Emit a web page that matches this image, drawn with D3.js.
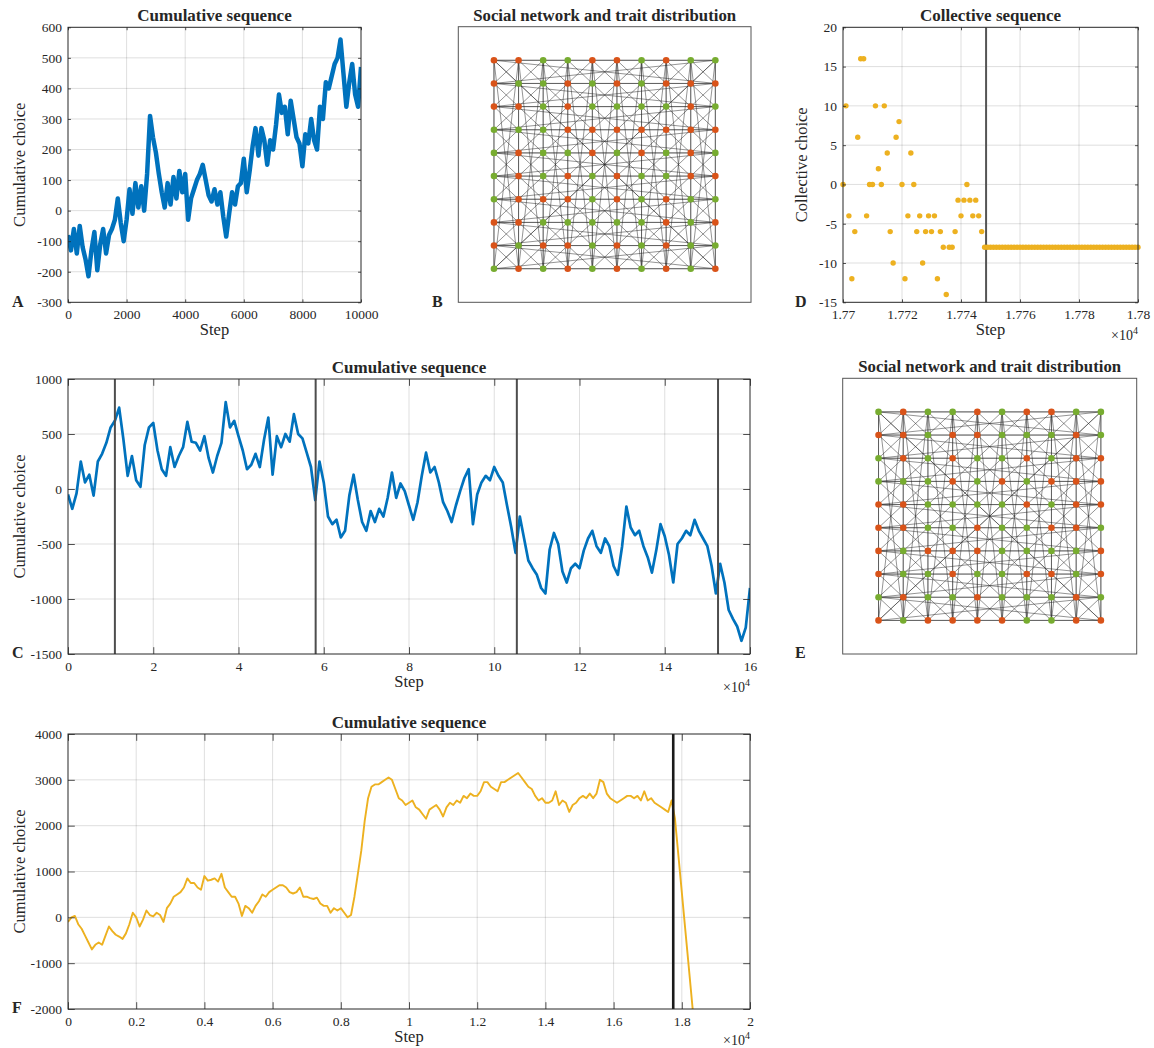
<!DOCTYPE html>
<html>
<head>
<meta charset="utf-8">
<script src="https://cdn.jsdelivr.net/npm/d3@7"></script>
<style>
body { margin: 0; background: #fff; }
svg text { font-family: "Liberation Serif", serif; fill: #262626; }
</style>
</head>
<body>
<svg id="fig" width="1154" height="1048"></svg>
<script>
// Panel A: cumulative choice, one value every 100 steps (0..10000)
const aValues = [-80,-130,-60,-140,-50,-120,-160,-215,-130,-70,
  -195,-110,-60,-140,-80,-60,-30,40,-40,-100,
  -30,70,-10,90,10,80,0,120,310,240,
  190,120,60,10,90,20,110,40,130,60,
  120,-30,40,70,100,120,150,100,50,30,
  70,20,60,-20,-85,-10,60,20,80,90,
  170,60,130,210,270,180,270,230,150,230,
  200,280,380,320,340,250,360,300,240,220,
  145,250,220,300,230,200,340,300,420,400,
  440,480,500,560,450,340,420,480,380,340,470];
const aStepSize = 100;

// Panel C: cumulative choice, one value every 0.1 x 10^4 steps (0..16)
const cValues = [-50,-180,-40,250,60,130,-60,250,320,420,
  560,620,740,450,120,300,80,20,400,560,
  600,350,180,120,380,200,300,380,610,430,
  420,350,480,280,150,300,420,790,560,620,
  480,350,180,220,320,200,450,650,130,480,
  380,500,430,680,500,460,330,200,-100,250,
  60,-250,-320,-280,-440,-380,-60,130,-100,-300,
  -380,-200,-300,-180,-250,-80,150,-80,50,-20,
  -150,-280,-120,120,330,150,200,60,-120,-200,
  -300,-150,-20,100,180,-320,-50,60,120,80,
  200,120,60,-150,-350,-580,-250,-450,-650,-720,
  -780,-900,-950,-550,-400,-500,-750,-850,-720,-680,
  -720,-560,-450,-380,-520,-580,-450,-520,-700,-780,
  -520,-160,-350,-420,-380,-520,-620,-760,-560,-320,
  -430,-600,-850,-500,-450,-380,-420,-280,-380,-450,
  -520,-700,-950,-680,-850,-1100,-1180,-1250,-1380,-1260,
  -900];
const cStepSize = 0.1;
const cMarkers = [1.1, 5.81, 10.53, 15.25];

// Panel F: cumulative choice, one value every 0.01 x 10^4 steps (0..1.84)
const fValues = [-100,0,30,-150,-250,-400,-550,-700,-600,-550,
  -600,-400,-200,-300,-380,-420,-470,-350,-150,100,
  0,-200,-50,150,50,20,100,50,-100,200,
  300,450,500,550,650,850,750,750,650,600,
  900,800,820,850,780,950,650,550,450,450,
  300,30,250,200,100,250,350,500,450,550,
  600,650,700,700,650,550,520,550,650,450,
  450,420,400,430,300,250,250,100,200,150,
  200,100,0,50,450,950,1450,2100,2600,2850,
  2900,2900,2950,3000,3050,3000,2800,2600,2550,2450,
  2500,2550,2400,2350,2250,2150,2350,2400,2450,2350,
  2200,2400,2500,2450,2550,2500,2650,2600,2700,2650,
  2650,2750,2950,2950,2850,2800,2750,2950,2950,3000,
  3050,3100,3150,3050,2950,2850,2800,2650,2550,2600,
  2500,2500,2550,2750,2450,2550,2500,2300,2450,2500,
  2600,2650,2600,2700,2600,2700,3000,2950,2700,2600,
  2550,2500,2550,2600,2650,2650,2600,2650,2550,2750,
  2550,2600,2500,2450,2400,2350,2300,2550,2150,1350,
  550,-250,-1050,-1850,-2650];
const fStepSize = 0.01;
const fMarkers = [1.7749];

// Panel D: collective choice per step, steps 17700..17800
const dStart = 17700;
const dValues = [0,10,-4,-12,-6,6,16,16,-4,0,
  0,10,2,0,10,4,-6,-10,6,8,
  0,-12,-4,4,0,-6,-4,-10,-6,-4,
  -6,-4,-12,-6,-8,-14,-8,-8,-6,-2,
  -4,-2,0,-2,-4,-2,-4,-6,
  -8,-8,-8,-8,-8,-8,-8,-8,-8,-8,-8,-8,-8,-8,-8,-8,-8,-8,-8,-8,
  -8,-8,-8,-8,-8,-8,-8,-8,-8,-8,-8,-8,-8,-8,-8,-8,-8,-8,-8,-8,
  -8,-8,-8,-8,-8,-8,-8,-8,-8,-8,-8,-8,-8];
const dMarkers = [17748.5];

// Trait grids, rows from top (O = orange trait, G = green trait)
const traitsB = ['OOGGOOGOGG','OGGOGOGOOO','OOGOGGGGOG','GGGOOOOOOO','GOGGOGOGOG',
  'GOGOGOGGOO','GOOOGOGOGG','OOGGGGGOGO','OGOOGOGOGG','GOGOGOGOGO'];
const traitsE = ['GOGGOGOOGG','OOGOOGGGOG','GOGOGGOGOO','GGGOGOGOOO','OOGGGGOGOO',
  'OOGGOGGOOG','OGOOOGGGGO','OGGOGGOOGO','GOGGOGGGOG','OGOOOOGGOO'];

const aXTicks = [0, 2000, 4000, 6000, 8000, 10000];
const aYTicks = [-300, -200, -100, 0, 100, 200, 300, 400, 500, 600];
const cXTicks = [0, 2, 4, 6, 8, 10, 12, 14, 16];
const cYTicks = [-1500, -1000, -500, 0, 500, 1000];
const fXTicks = [0, 0.2, 0.4, 0.6, 0.8, 1, 1.2, 1.4, 1.6, 1.8, 2];
const fYTicks = [-2000, -1000, 0, 1000, 2000, 3000, 4000];
const dXTicks = [17700, 17720, 17740, 17760, 17780, 17800];
const dYTicks = [-15, -10, -5, 0, 5, 10, 15, 20];

const BLUE = '#0072BD', YELLOW = '#EDB120', ORANGE = '#D95319', GREEN = '#77AC30';
const AX = '#262626';
const FONT = '"Liberation Serif", serif';

const svg = d3.select('#fig');
let clipId = 0;

function makeAxes(o) {
    const x = d3.scaleLinear().domain(o.xDomain).range([o.x0, o.x1]);
    const y = d3.scaleLinear().domain(o.yDomain).range([o.y1, o.y0]);
    const g = svg.append('g');

    // grid
    g.append('g').selectAll('line')
        .data(o.xTicks.filter(t => t > o.xDomain[0] && t < o.xDomain[1]))
        .join('line')
        .attr('x1', d => x(d)).attr('x2', d => x(d))
        .attr('y1', o.y0).attr('y2', o.y1)
        .attr('stroke', AX).attr('stroke-opacity', 0.15);
    g.append('g').selectAll('line')
        .data(o.yTicks.filter(t => t > o.yDomain[0] && t < o.yDomain[1]))
        .join('line')
        .attr('y1', d => y(d)).attr('y2', d => y(d))
        .attr('x1', o.x0).attr('x2', o.x1)
        .attr('stroke', AX).attr('stroke-opacity', 0.15);

    const id = 'clip' + (clipId++);
    svg.append('clipPath').attr('id', id).append('rect')
        .attr('x', o.x0).attr('y', o.y0)
        .attr('width', o.x1 - o.x0).attr('height', o.y1 - o.y0);
    const plot = g.append('g').attr('clip-path', `url(#${id})`);
    return { x, y, g, plot, o };
}

function finishAxes(a) {
    const o = a.o;
    const tl = 0.01 * Math.max(o.x1 - o.x0, o.y1 - o.y0);
    const fx = o.xFmt || (v => String(v));
    const fy = o.yFmt || (v => String(v));
    const none = () => '';
    const style = sel => {
        sel.attr('font-size', 13.5).attr('font-family', FONT).attr('color', AX);
        sel.select('.domain').remove();
        sel.selectAll('line').attr('stroke-width', 0.8);
    };
    a.g.append('g').attr('transform', `translate(0,${o.y1})`)
        .call(d3.axisBottom(a.x).tickValues(o.xTicks).tickFormat(fx).tickSize(-tl).tickSizeOuter(0).tickPadding(7))
        .call(style);
    a.g.append('g').attr('transform', `translate(0,${o.y0})`)
        .call(d3.axisTop(a.x).tickValues(o.xTicks).tickFormat(none).tickSize(-tl).tickSizeOuter(0))
        .call(style);
    a.g.append('g').attr('transform', `translate(${o.x0},0)`)
        .call(d3.axisLeft(a.y).tickValues(o.yTicks).tickFormat(fy).tickSize(-tl).tickSizeOuter(0).tickPadding(6))
        .call(style);
    a.g.append('g').attr('transform', `translate(${o.x1},0)`)
        .call(d3.axisRight(a.y).tickValues(o.yTicks).tickFormat(none).tickSize(-tl).tickSizeOuter(0))
        .call(style);

    a.g.append('rect')
        .attr('x', o.x0).attr('y', o.y0)
        .attr('width', o.x1 - o.x0).attr('height', o.y1 - o.y0)
        .attr('fill', 'none').attr('stroke', AX).attr('stroke-width', 1);

    const cx = (o.x0 + o.x1) / 2;
    a.g.append('text').attr('x', cx).attr('y', o.y0 - 6)
        .attr('text-anchor', 'middle').attr('font-weight', 'bold').attr('font-size', 17)
        .text(o.title);
    a.g.append('text').attr('x', cx).attr('y', o.y1 + 33)
        .attr('text-anchor', 'middle').attr('font-size', 16.5)
        .text('Step');
    a.g.append('text')
        .attr('transform', `translate(${o.yLabelX},${(o.y0 + o.y1) / 2}) rotate(-90)`)
        .attr('text-anchor', 'middle').attr('font-size', 16.5)
        .text(o.yLabel);
    if (o.exponent) {
        const t = a.g.append('text').attr('x', o.x1).attr('y', Math.min(o.y1 + 38, 1045))
            .attr('text-anchor', 'end').attr('font-size', 14);
        t.append('tspan').text('\u00d710');
        t.append('tspan').attr('dy', -6).attr('font-size', 10).text('4');
    }
}

function letter(txt, x, y) {
    svg.append('text').attr('x', x).attr('y', y)
        .attr('font-weight', 'bold').attr('font-size', 16).text(txt);
}

function drawSeries(a, values, stepSize, color, width) {
    const line = d3.line()
        .x((d, i) => a.x(i * stepSize))
        .y(d => a.y(d));
    a.plot.append('path').datum(values)
        .attr('fill', 'none').attr('stroke', color)
        .attr('stroke-width', width).attr('stroke-linejoin', 'round')
        .attr('d', line);
}

function drawMarkers(a, xs, color, width) {
    a.plot.selectAll('.marker').data(xs).join('line')
        .attr('class', 'marker')
        .attr('x1', d => a.x(d)).attr('x2', d => a.x(d))
        .attr('y1', a.o.y0).attr('y2', a.o.y1)
        .attr('stroke', color).attr('stroke-width', width);
}

// ---- A ----
const A = makeAxes({
    x0: 68, x1: 361, y0: 27.3, y1: 302.3,
    xDomain: [0, 10000], yDomain: [-300, 600],
    xTicks: aXTicks, yTicks: aYTicks,
    title: 'Cumulative sequence', yLabel: 'Cumulative choice', yLabelX: 25
});
drawSeries(A, aValues, aStepSize, BLUE, 4.5);
finishAxes(A);
letter('A', 12, 307);

// ---- C ----
const C = makeAxes({
    x0: 68, x1: 750, y0: 379, y1: 654,
    xDomain: [0, 16], yDomain: [-1500, 1000],
    xTicks: cXTicks, yTicks: cYTicks,
    title: 'Cumulative sequence', yLabel: 'Cumulative choice', yLabelX: 25, exponent: true
});
drawSeries(C, cValues, cStepSize, BLUE, 2.7);
drawMarkers(C, cMarkers, '#4d4d4d', 2);
finishAxes(C);
letter('C', 12, 658);

// ---- F ----
const F = makeAxes({
    x0: 68, x1: 750, y0: 734, y1: 1009,
    xDomain: [0, 2], yDomain: [-2000, 4000],
    xTicks: fXTicks, yTicks: fYTicks,
    xFmt: v => String(+v.toFixed(1)),
    title: 'Cumulative sequence', yLabel: 'Cumulative choice', yLabelX: 25, exponent: true
});
drawSeries(F, fValues, fStepSize, YELLOW, 1.9);
drawMarkers(F, fMarkers, '#1a1a1a', 2.6);
finishAxes(F);
letter('F', 12, 1013);

// ---- D ----
const D = makeAxes({
    x0: 843, x1: 1138, y0: 27.3, y1: 302.3,
    xDomain: [17700, 17800], yDomain: [-15, 20],
    xTicks: dXTicks, yTicks: dYTicks,
    xFmt: v => String(+(v / 1e4).toFixed(3)),
    title: 'Collective sequence', yLabel: 'Collective choice', yLabelX: 807, exponent: true
});
drawMarkers(D, dMarkers, '#555', 2);
D.g.append('g').selectAll('circle').data(dValues).join('circle')
    .attr('cx', (d, i) => D.x(dStart + i))
    .attr('cy', d => D.y(d))
    .attr('r', 2.7)
    .attr('fill', YELLOW);
finishAxes(D);
letter('D', 795, 307);

// ---- Networks B, E: 10x10 torus lattice, Moore neighbourhood ----
function drawNetwork(traits, box, title) {
    const n = traits.length;
    const x = d3.scaleLinear().domain([-1.45, n - 1 + 1.45]).range([box.x0, box.x1]);
    const y = d3.scaleLinear().domain([-1.45, n - 1 + 1.45]).range([box.y0, box.y1]);
    const nodes = [];
    traits.forEach((row, r) => row.split('').forEach((t, c) => nodes.push({ r, c, t })));
    const edges = [];
    nodes.forEach((a, i) => {
        for (let dr = -1; dr <= 1; dr++) {
            for (let dc = -1; dc <= 1; dc++) {
                if (!dr && !dc) continue;
                const j = ((a.r + dr + n) % n) * n + ((a.c + dc + n) % n);
                if (j > i) edges.push([a, nodes[j]]);
            }
        }
    });
    const g = svg.append('g');
    g.append('rect')
        .attr('x', box.x0).attr('y', box.y0)
        .attr('width', box.x1 - box.x0).attr('height', box.y1 - box.y0)
        .attr('fill', 'none').attr('stroke', '#555').attr('stroke-width', 1);
    g.append('g').selectAll('line').data(edges).join('line')
        .attr('x1', d => x(d[0].c)).attr('y1', d => y(d[0].r))
        .attr('x2', d => x(d[1].c)).attr('y2', d => y(d[1].r))
        .attr('stroke', AX).attr('stroke-opacity', 0.55).attr('stroke-width', 0.9);
    g.append('g').selectAll('circle').data(nodes).join('circle')
        .attr('cx', d => x(d.c)).attr('cy', d => y(d.r)).attr('r', 3.3)
        .attr('fill', d => d.t === 'O' ? ORANGE : GREEN);
    g.append('text').attr('x', (box.x0 + box.x1) / 2).attr('y', box.y0 - 6)
        .attr('text-anchor', 'middle').attr('font-weight', 'bold').attr('font-size', 16.8)
        .text(title);
}

drawNetwork(traitsB, { x0: 458.3, x1: 751, y0: 26.7, y1: 302.3 }, 'Social network and trait distribution');
letter('B', 432, 307);
drawNetwork(traitsE, { x0: 842.7, x1: 1136.7, y0: 378.3, y1: 654 }, 'Social network and trait distribution');
letter('E', 795, 658);
</script>
</body>
</html>
